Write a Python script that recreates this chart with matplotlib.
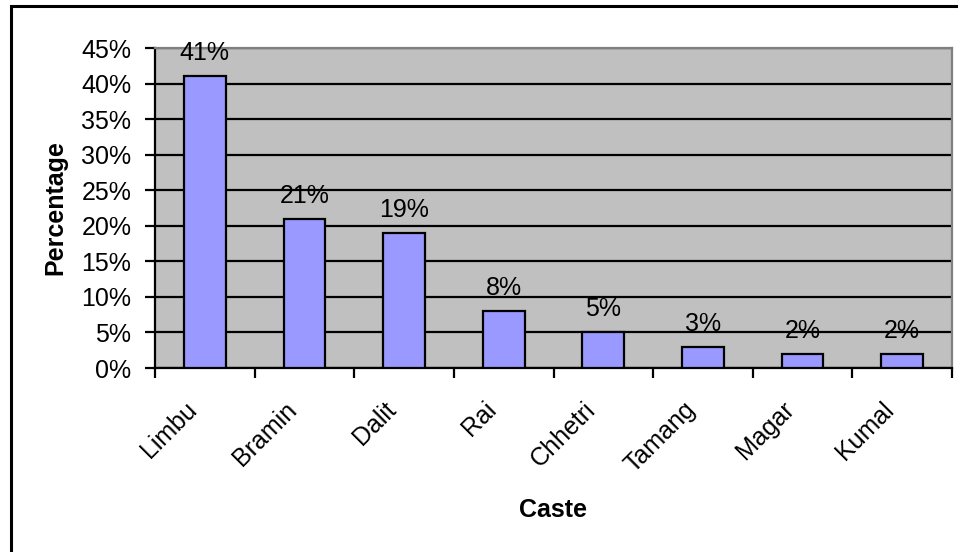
import matplotlib
matplotlib.use("Agg")
import matplotlib.pyplot as plt
from matplotlib.patches import Rectangle
from matplotlib.ticker import MultipleLocator, FuncFormatter
from matplotlib.transforms import ScaledTranslation

plt.rcParams['font.family'] = ['Liberation Sans', 'DejaVu Sans']

castes = ['Limbu', 'Bramin', 'Dalit', 'Rai', 'Chhetri', 'Tamang', 'Magar', 'Kumal']
percent = [41, 21, 19, 8, 5, 3, 2, 2]

W, H = 958, 552
FS = 18
fig = plt.figure(figsize=(W / 100, H / 100), dpi=100)
fig.patch.set_facecolor('white')

# chart frame (runs off the right and bottom edge)
fig.patches.append(Rectangle((11 / W, -0.1), 1.2, 1.1 - 6 / H, transform=fig.transFigure,
                             fill=False, edgecolor='black', linewidth=2.2))

ax = fig.add_axes([155 / W, 1 - 368 / H, (952 - 155) / W, (368 - 48) / H])
ax.set_facecolor('#c0c0c0')

x = range(len(castes))
ax.bar(x, percent, width=0.42, color='#9999ff', edgecolor='black', linewidth=1.6, zorder=3)

for i, v in enumerate(percent):
    ax.annotate(f'{v}%', (i, v), xytext=(0, 8), textcoords='offset points',
                ha='center', va='bottom', fontsize=FS, zorder=4)

ax.set_xlim(-0.5, len(castes) - 0.5)
ax.set_ylim(0, 45)
ax.yaxis.set_major_locator(MultipleLocator(5))
ax.yaxis.set_major_formatter(FuncFormatter(lambda v, p: f'{v:.0f}%'))
ax.yaxis.grid(True, color='black', linewidth=1.6, zorder=1)
ax.set_axisbelow(True)

# tick marks on the category boundaries
ax.set_xticks([i - 0.5 for i in range(len(castes) + 1)])
ax.set_xticklabels([])
ax.tick_params(axis='x', length=7, width=1.6, direction='out')
ax.tick_params(axis='y', length=7, width=1.6, labelsize=FS, pad=10)

# slanted category names, ending just left of each centre
shift = ScaledTranslation(-14.5 / 72, -21 / 72, fig.dpi_scale_trans)
for i, name in enumerate(castes):
    ax.text(i, 0, name, transform=ax.get_xaxis_transform() + shift,
            rotation=45, rotation_mode='anchor', ha='right', va='top',
            fontsize=FS, clip_on=False)

for s in ('left', 'bottom'):
    ax.spines[s].set_color('black')
    ax.spines[s].set_linewidth(1.6)
for s in ('top', 'right'):
    ax.spines[s].set_color('#808080')
    ax.spines[s].set_linewidth(1.6)

ax.set_ylabel('Percentage', fontsize=FS, fontweight='bold', labelpad=10)
ax.set_xlabel('Caste', fontsize=FS, fontweight='bold', va='center')
ax.xaxis.set_label_coords(0.5, -(510 - 368) / 320)

fig.savefig('out.png', dpi=100)
